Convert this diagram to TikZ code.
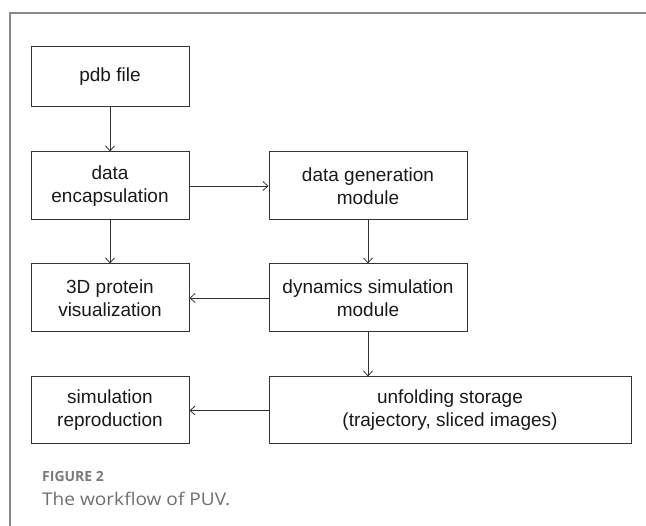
\documentclass[tikz,border=0pt]{standalone}
\usepackage{fontspec}
\setmainfont{Liberation Sans}
\newfontfamily\capfont{Open Sans}
\newfontfamily\capwidefont[FakeStretch=1.09]{Open Sans}
\usetikzlibrary{arrows.meta}
\definecolor{framegray}{HTML}{8A8A8A}
\definecolor{boxline}{HTML}{333333}
\definecolor{captiongray}{HTML}{7A7A7A}
\tikzset{
  stepbox/.style={draw=boxline, line width=1pt, rectangle, align=center, text=black!90,
    font=\fontsize{19}{23}\selectfont, inner sep=0pt},
  flow/.style={draw=boxline, line width=0.8pt, -{Straight Barb[length=5pt,width=9pt]}},
}
\begin{document}
\begin{tikzpicture}[x=1pt,y=-1pt]
\useasboundingbox (0,0) rectangle (646,526);
% frame
\draw[framegray, line width=1.6pt] (10,560) -- (10,13) -- (680,13);
% boxes
\node[stepbox, minimum width=158pt, minimum height=60pt] (pdb) at (110,77) {pdb file};
\node[stepbox, minimum width=158pt, minimum height=68pt] (enc) at (110,186) {data\\encapsulation};
\node[stepbox, minimum width=158pt, minimum height=68pt] (vis) at (110,298) {3D protein\\visualization};
\node[stepbox, minimum width=198pt, minimum height=68pt] (gen) at (368,186) {data generation\\module};
\node[stepbox, minimum width=198pt, minimum height=68pt] (dyn) at (368,298) {dynamics simulation\\module};
\node[stepbox, minimum width=362pt, minimum height=67pt] (unf) at (450,410.5) {unfolding storage\\(trajectory, sliced images)};
\node[stepbox, minimum width=158pt, minimum height=67pt] (rep) at (110,410.5) {simulation\\reproduction};
% connectors
\draw[flow] (pdb) -- (enc);
\draw[flow] (enc) -- (gen);
\draw[flow] (enc) -- (vis);
\draw[flow] (gen) -- (dyn);
\draw[flow] (dyn) -- (vis);
\draw[flow] (dyn.south) -- (dyn.south |- unf.north);
\draw[flow] (unf) -- (rep);
% caption
\node[anchor=base west, inner sep=0pt, text=captiongray, font=\capfont\bfseries\fontsize{14}{16}\selectfont] (figlabel) at (42,482) {FIGURE 2};
\node[anchor=base west, inner sep=0pt, text=captiongray!90!black, font=\capwidefont\fontsize{17.5}{20}\selectfont] (figcap) at (42,506) {The workflow of PUV.};
\end{tikzpicture}
\end{document}
